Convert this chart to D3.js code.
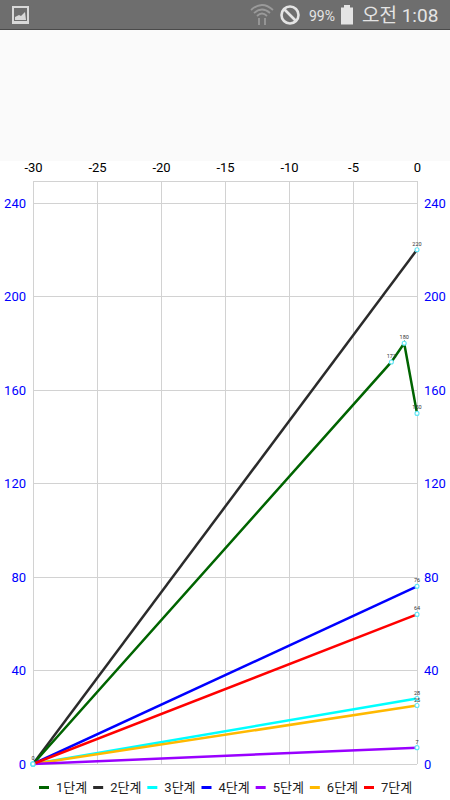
<!DOCTYPE html>
<html><head><meta charset="utf-8">
<script src="https://cdnjs.cloudflare.com/ajax/libs/d3/7.8.5/d3.min.js"></script>
<style>html,body{margin:0;padding:0;background:#fff}svg{display:block}text{font-family:Roboto,"Noto Sans CJK KR",sans-serif}</style>
</head><body><div id="c"></div>
<script>
const xTicks=[-30,-25,-20,-15,-10,-5,0];
const yTicks=[0,40,80,120,160,200,240];
const names=["1단계","2단계","3단계","4단계","5단계","6단계","7단계"];
const colors=["#006400","#2b2b2b","#00ffff","#0000ff","#9900ff","#ffb900","#ff0000"];
const days1=[-30,-2,-1,0];
const values1=[0,172,180,150];
const days=[-30,0];
const values2=[0,220];
const values3=[0,28];
const values4=[0,76];
const values5=[0,7];
const values6=[0,25];
const values7=[0,64];
const series=[[days1,values1],[days,values2],[days,values3],[days,values4],[days,values5],[days,values6],[days,values7]];
const drawOrder=[1,0,2,5,4,3,6];

const svg=d3.select("#c").append("svg").attr("width",450).attr("height",800);
const x=d3.scaleLinear().domain([-30,0]).range([33,417]);
const y=d3.scaleLinear().domain([0,240]).range([764,203]);
const yTop=181;

// status bar
const grey="#e4e4e4";
svg.append("rect").attr("width",450).attr("height",29).attr("fill","#6e6e6e");
svg.append("rect").attr("y",29).attr("width",450).attr("height",1).attr("fill","#4a4a4a");
svg.append("rect").attr("x",12).attr("y",6).attr("width",17).attr("height",18).attr("fill","#d8d8d8");
svg.append("rect").attr("x",14).attr("y",8).attr("width",13).attr("height",13).attr("fill","#6e6e6e");
svg.append("path").attr("d","M15 20L15 17L19 15L21 16L25 12L26 20Z").attr("fill","#d8d8d8");
const wifi=svg.append("g").attr("fill","none").attr("stroke","#9a9a9a").attr("stroke-width",1.8);
["M251 10Q262 0 273 10","M254 13Q262 6 270 13","M257 16Q262 11 267 16"].forEach(d=>wifi.append("path").attr("d",d));
svg.append("path").attr("d","M259 18L259 25M265 18L265 25").attr("stroke","#9a9a9a").attr("stroke-width",1.8);
svg.append("circle").attr("cx",290).attr("cy",15).attr("r",8.5).attr("fill","none").attr("stroke",grey).attr("stroke-width",2.6);
svg.append("line").attr("x1",284).attr("y1",9).attr("x2",296).attr("y2",21).attr("stroke",grey).attr("stroke-width",2.6);
svg.append("text").attr("x",309).attr("y",21).attr("font-size",14).attr("fill",grey).text("99%");
svg.append("rect").attr("x",341).attr("y",7.5).attr("width",12).attr("height",17).attr("fill",grey);
svg.append("rect").attr("x",344).attr("y",5).attr("width",6).attr("height",3).attr("fill",grey);
svg.append("text").attr("x",362).attr("y",22).attr("font-size",19).attr("fill",grey).attr("font-family",'"Noto Sans CJK KR"').text("오전 1:08");

// blank panel
svg.append("rect").attr("y",30).attr("width",450).attr("height",131).attr("fill","#fafafa");

// grid
const grid=svg.append("g").attr("stroke","#d2d2d2").attr("stroke-width",1).attr("shape-rendering","crispEdges");
xTicks.forEach(t=>grid.append("line").attr("x1",x(t)).attr("x2",x(t)).attr("y1",yTop).attr("y2",764));
yTicks.forEach(t=>grid.append("line").attr("x1",33).attr("x2",417).attr("y1",y(t)).attr("y2",y(t)));
grid.append("line").attr("x1",33).attr("x2",417).attr("y1",yTop).attr("y2",yTop);

// axes
const hide=g=>{g.select(".domain").remove();g.selectAll(".tick line").remove();};
svg.append("g").attr("transform","translate(0,172)")
 .call(d3.axisTop(x).tickValues(xTicks).tickFormat(d=>String(d)).tickSize(0).tickPadding(0)).call(hide)
 .selectAll("text").attr("font-size",13).attr("fill","#000").attr("font-family","Roboto");
svg.append("g").attr("transform","translate(26,0)")
 .call(d3.axisLeft(y).tickValues(yTicks).tickSize(0).tickPadding(0)).call(hide)
 .selectAll("text").attr("font-size",13).attr("fill","#0000ff").attr("font-family","Roboto");
svg.append("g").attr("transform","translate(424,0)")
 .call(d3.axisRight(y).tickValues(yTicks).tickSize(0).tickPadding(0)).call(hide)
 .selectAll("text").attr("font-size",13).attr("fill","#0000ff").attr("font-family","Roboto");

// each series: line, then its points
const line=d3.line();
drawOrder.forEach(i=>{
  const [xs,ys]=series[i];
  svg.append("path").attr("d",line(xs.map((d,k)=>[x(d),y(ys[k])])))
    .attr("fill","none").attr("stroke",colors[i]).attr("stroke-width",2.5);
  xs.forEach((d,k)=>{
    svg.append("circle").attr("cx",x(d)).attr("cy",y(ys[k])).attr("r",2)
      .attr("fill","#fff").attr("stroke","#5fe6f7").attr("stroke-width",1.1);
  });
});
// value labels; identical coincident labels are drawn once
const seen=new Set();
drawOrder.forEach(i=>{
  const [xs,ys]=series[i];
  xs.forEach((d,k)=>{
    const key=d+"|"+ys[k];
    if(seen.has(key))return;
    seen.add(key);
    svg.append("text").attr("x",x(d)).attr("y",y(ys[k])-4).attr("text-anchor","middle")
      .attr("font-size",5.5).attr("fill","#333").text(ys[k]);
  });
});

// legend
const lx=d3.scalePoint().domain(names).range([39,364]);
names.forEach((n,i)=>{
  svg.append("rect").attr("x",lx(n)).attr("y",786).attr("width",10).attr("height",3).attr("fill",colors[i]);
  svg.append("text").attr("x",lx(n)+17).attr("y",792).attr("font-size",13).attr("fill","#222")
    .attr("font-family",'Roboto,"Noto Sans CJK KR"').text(n);
});
</script></body></html>
